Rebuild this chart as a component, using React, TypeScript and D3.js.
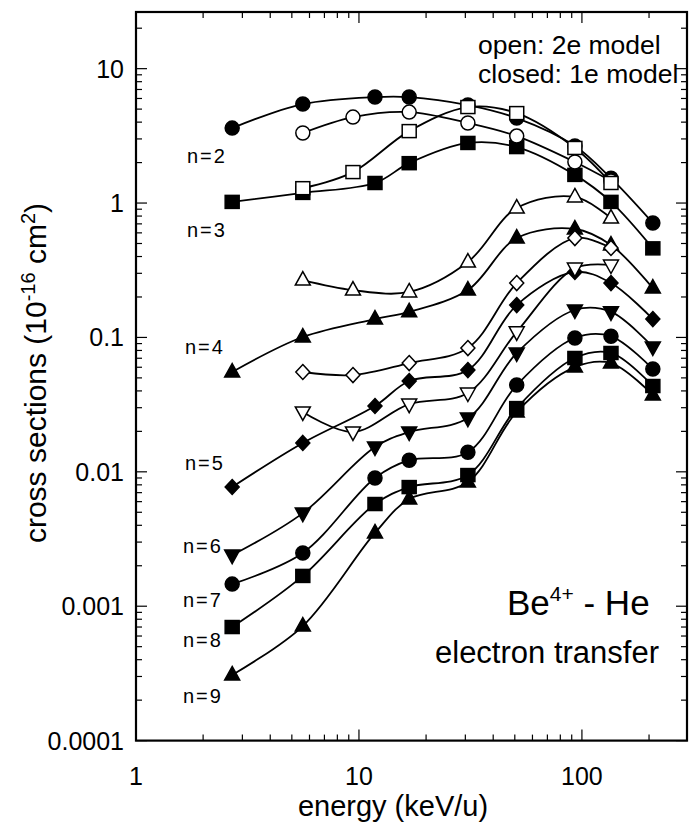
import React from 'react';
import * as d3 from 'd3';

// energies (keV/u)
const energies1e = [2.7, 5.6, 11.8, 16.8, 30.8, 51, 93, 135, 208];
const energies2e = [5.6, 9.4, 16.8, 30.8, 51, 93, 135];

// closed symbols: 1e model
const n2_1e = [3.61, 5.45, 6.15, 6.15, 5.36, 4.29, 2.66, 1.53, 0.71];
const n3_1e = [1.02, 1.19, 1.41, 1.98, 2.8, 2.61, 1.62, 1.02, 0.46];
const n4_1e = [0.0553, 0.1007, 0.137, 0.155, 0.225, 0.549, 0.641, 0.487, 0.233];
const n5_1e = [0.00771, 0.0164, 0.0309, 0.0474, 0.0572, 0.174, 0.307, 0.254, 0.137];
const n6_1e = [0.0024, 0.00493, 0.0153, 0.0198, 0.0251, 0.0766, 0.16, 0.155, 0.0849];
const n7_1e = [0.00146, 0.00249, 0.009, 0.0122, 0.014, 0.0442, 0.099, 0.102, 0.0582];
const n8_1e = [0.0007, 0.00168, 0.00576, 0.0077, 0.00946, 0.0298, 0.0703, 0.0766, 0.0435];
const n9_1e = [0.000308, 0.000712, 0.00351, 0.00628, 0.0084, 0.0279, 0.0602, 0.0645, 0.0373];

// open symbols: 2e model
const n2_2e = [3.32, 4.36, 4.75, 3.94, 3.15, 2.02, 1.46];
const n3_2e = [1.29, 1.7, 3.43, 5.18, 4.67, 2.57, 1.41];
const n4_2e = [0.267, 0.225, 0.218, 0.364, 0.918, 1.11, 0.773];
const n5_2e = [0.0553, 0.0525, 0.0645, 0.0834, 0.254, 0.549, 0.463];
const n6_2e = [0.0279, 0.0198, 0.0319, 0.0386, 0.11, 0.328, 0.346];

const xTickLabels = ['1', '10', '100'];
const yTickLabels = ['0.0001', '0.001', '0.01', '0.1', '1', '10'];
const nLabels = ['n=2', 'n=3', 'n=4', 'n=5', 'n=6', 'n=7', 'n=8', 'n=9'];

type Shape = 'circle' | 'square' | 'up' | 'down' | 'diamond';

const series: { vals: number[]; model: '1e' | '2e'; shape: Shape }[] = [
  { vals: n2_1e, model: '1e', shape: 'circle' },
  { vals: n3_1e, model: '1e', shape: 'square' },
  { vals: n4_1e, model: '1e', shape: 'up' },
  { vals: n5_1e, model: '1e', shape: 'diamond' },
  { vals: n6_1e, model: '1e', shape: 'down' },
  { vals: n7_1e, model: '1e', shape: 'circle' },
  { vals: n8_1e, model: '1e', shape: 'square' },
  { vals: n9_1e, model: '1e', shape: 'up' },
  { vals: n2_2e, model: '2e', shape: 'circle' },
  { vals: n3_2e, model: '2e', shape: 'square' },
  { vals: n4_2e, model: '2e', shape: 'up' },
  { vals: n5_2e, model: '2e', shape: 'diamond' },
  { vals: n6_2e, model: '2e', shape: 'down' },
];

const W = 693;
const H = 825;
const X0 = 136, X1 = 687, Y0 = 12, Y1 = 740.6;
const FONT = '"Liberation Sans", Arial, Helvetica, sans-serif';

const x = d3.scaleLog().domain([1, 296]).range([X0, X1]);
const y = d3.scaleLog().domain([1e-4, 26.4]).range([Y1, Y0]);

function Marker({ shape, filled, cx, cy }: { shape: Shape; filled: boolean; cx: number; cy: number }) {
  const fill = filled ? '#000' : '#fff';
  const common = { fill, stroke: '#000', strokeWidth: 1.5 };
  const t = `translate(${cx},${cy})`;
  switch (shape) {
    case 'circle':
      return <circle cx={cx} cy={cy} r={7} {...common} />;
    case 'square':
      return <rect x={cx - 7} y={cy - 6.5} width={14} height={13} {...common} />;
    case 'up':
      return <path transform={t} d="M0,-8.5L7.5,5L-7.5,5Z" {...common} />;
    case 'down':
      return <path transform={t} d="M0,8.5L7.5,-5L-7.5,-5Z" {...common} />;
    case 'diamond':
      return <path transform={t} d="M0,-7.5L7,0L0,7.5L-7,0Z" {...common} />;
  }
  return null;
}

export default function App() {
  const line = d3
    .line<[number, number]>()
    .x((d) => x(d[0]))
    .y((d) => y(d[1]))
    .curve(d3.curveCatmullRom.alpha(0.5));

  const xt = x.ticks();
  const yt = y.ticks();
  const isMajor = (v: number) => Math.abs(Math.log10(v) - Math.round(Math.log10(v))) < 1e-6;

  const yMajor = yt.filter(isMajor);
  const xMajor = xt.filter(isMajor);

  const labelPos: [number, number][] = [
    [187, 163], [187, 237], [185, 354], [185, 470], [183, 553], [183, 607], [183, 647], [183, 703],
  ];

  const closed = series.filter((s) => s.model === '1e');
  const open = series.filter((s) => s.model === '2e');

  return (
    <svg width={W} height={H} style={{ position: 'absolute', left: 0, top: 0, background: '#fff' }} fontFamily={FONT}>
      <rect x={0} y={0} width={W} height={H} fill="#fff" />
      {/* ticks */}
      <g stroke="#000" strokeWidth={1.2}>
        {yt.map((v, i) => {
          const len = isMajor(v) ? 11 : 6;
          const yy = y(v);
          return (
            <g key={'y' + i}>
              <line x1={X0} x2={X0 + len} y1={yy} y2={yy} />
              <line x1={X1} x2={X1 - len} y1={yy} y2={yy} />
            </g>
          );
        })}
        {xt.map((v, i) => {
          const len = isMajor(v) ? 11 : 6;
          const xx = x(v);
          return (
            <g key={'x' + i}>
              <line x1={xx} x2={xx} y1={Y1} y2={Y1 - len} />
              <line x1={xx} x2={xx} y1={Y0} y2={Y0 + len} />
            </g>
          );
        })}
      </g>
      <rect x={X0} y={Y0} width={X1 - X0} height={Y1 - Y0} fill="none" stroke="#000" strokeWidth={2.2} />

      {/* tick labels */}
      {yMajor.map((v, i) => (
        <text key={'yl' + i} x={X0 - 12} y={y(v)} dy="0.36em" textAnchor="end" fontSize={25}>
          {yTickLabels[i]}
        </text>
      ))}
      {xMajor.map((v, i) => (
        <text key={'xl' + i} x={x(v)} y={785} textAnchor="middle" fontSize={25}>
          {xTickLabels[i]}
        </text>
      ))}

      {/* axis titles */}
      <text x={393} y={816} textAnchor="middle" fontSize={29}>energy (keV/u)</text>
      <text transform="translate(46,373) rotate(-90)" textAnchor="middle" fontSize={30}>
        cross sections (10
        <tspan dy={-11} fontSize={20}>-16</tspan>
        <tspan dy={11}> cm</tspan>
        <tspan dy={-11} fontSize={20}>2</tspan>
        <tspan dy={11}>)</tspan>
      </text>

      {/* curves */}
      <g fill="none" stroke="#000" strokeWidth={1.8}>
        {closed.map((s, i) => (
          <path key={'c' + i} d={line(energies1e.map((e, j) => [e, s.vals[j]] as [number, number])) || ''} />
        ))}
        {open.map((s, i) => (
          <path key={'o' + i} d={line(energies2e.map((e, j) => [e, s.vals[j]] as [number, number])) || ''} />
        ))}
      </g>

      {/* markers */}
      {closed.map((s, i) =>
        energies1e.map((e, j) => (
          <Marker key={`cm${i}-${j}`} shape={s.shape} filled cx={x(e)} cy={y(s.vals[j])} />
        ))
      )}
      {open.map((s, i) =>
        energies2e.map((e, j) => (
          <Marker key={`om${i}-${j}`} shape={s.shape} filled={false} cx={x(e)} cy={y(s.vals[j])} />
        ))
      )}

      {/* n labels */}
      {nLabels.map((t, i) => (
        <text key={'n' + i} x={labelPos[i][0]} y={labelPos[i][1]} fontSize={20} letterSpacing={2}>
          {t}
        </text>
      ))}

      {/* legend text */}
      <text x={478} y={54} fontSize={26.5}>open: 2e model</text>
      <text x={478} y={83} fontSize={26.5}>closed: 1e model</text>

      {/* annotation */}
      <text x={507} y={615} fontSize={35}>
        Be
        <tspan dy={-14} fontSize={21}>4+</tspan>
        <tspan dy={14}> - He</tspan>
      </text>
      <text x={435} y={663} fontSize={31}>electron transfer</text>
    </svg>
  );
}
